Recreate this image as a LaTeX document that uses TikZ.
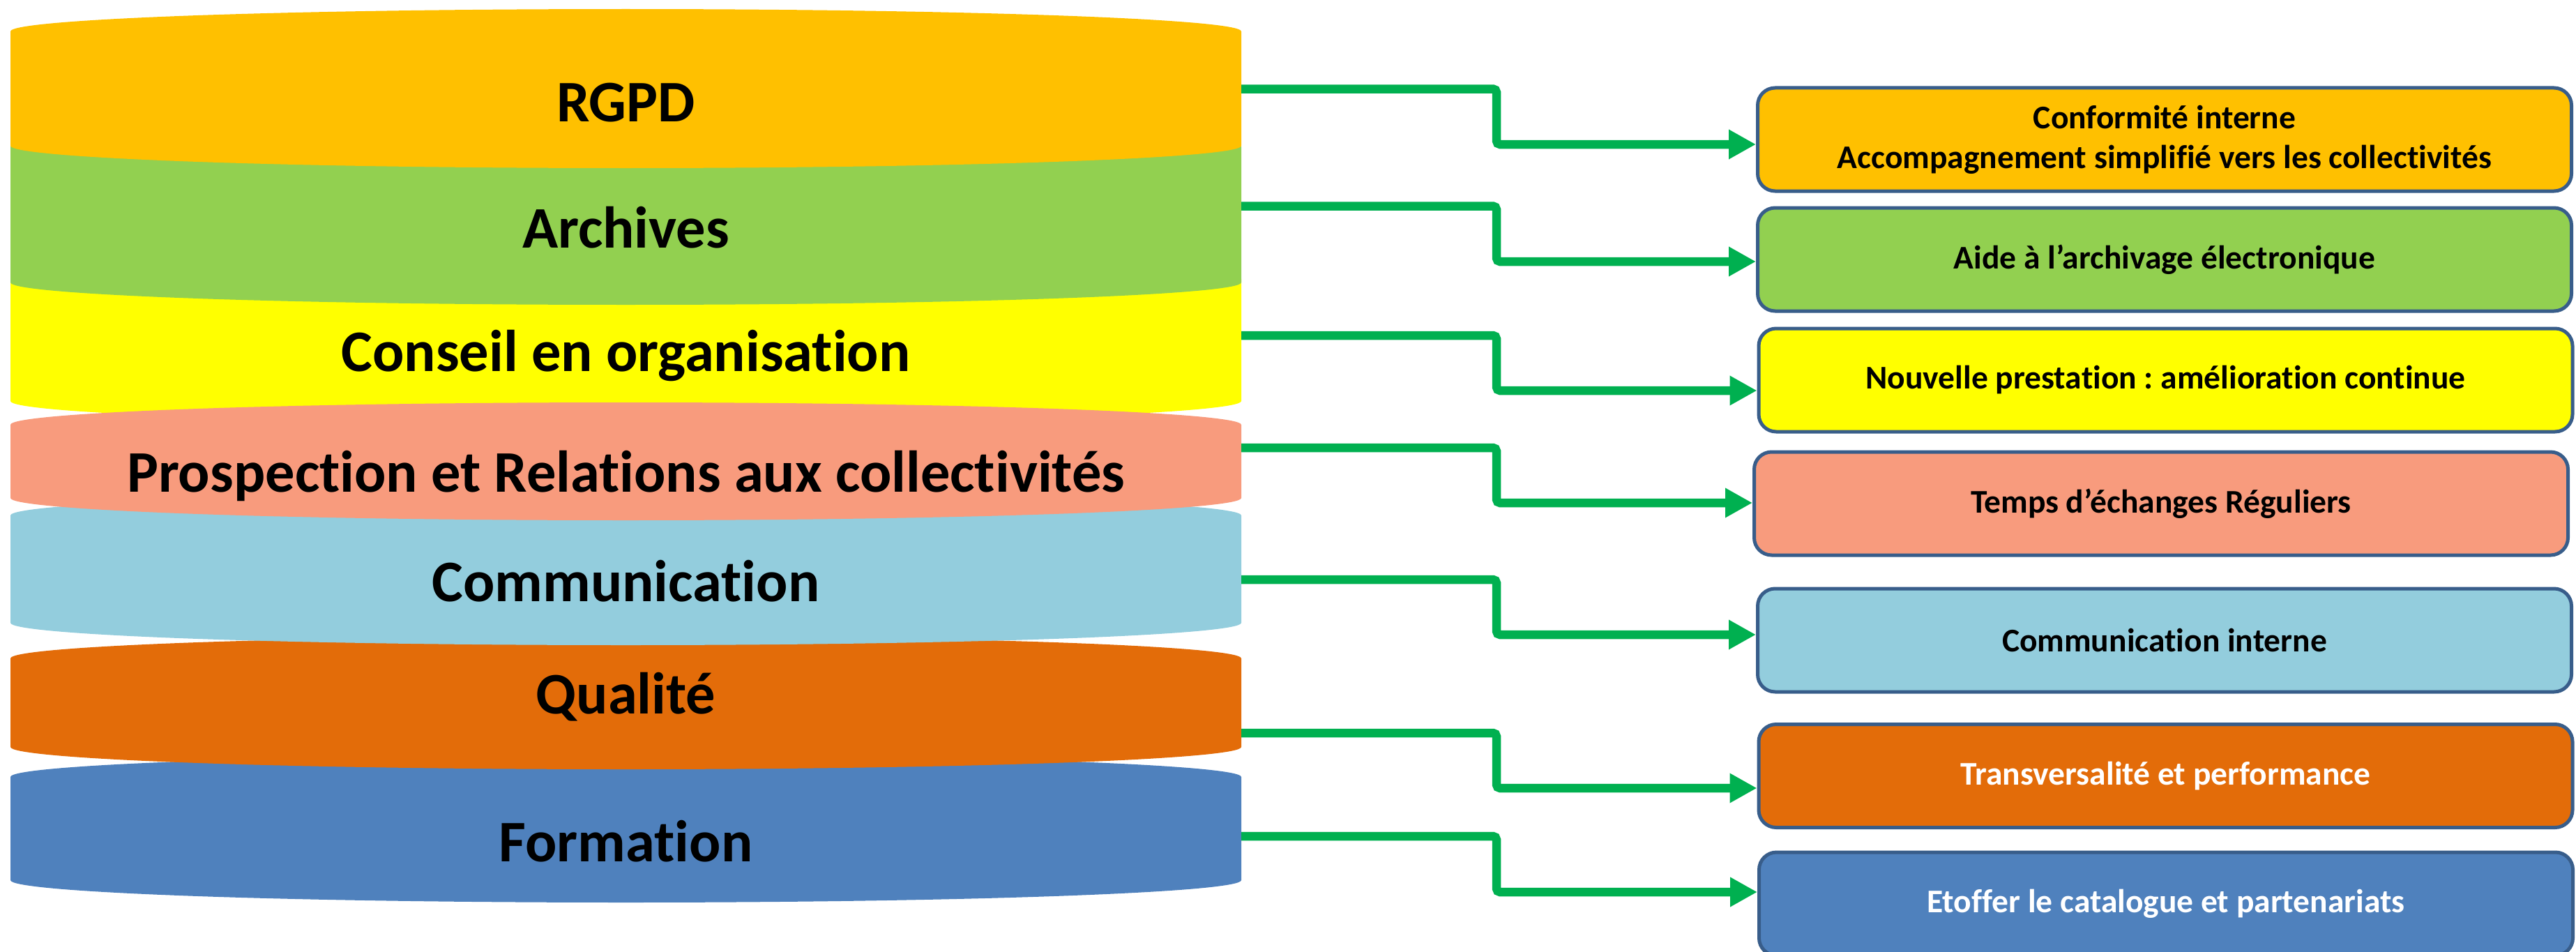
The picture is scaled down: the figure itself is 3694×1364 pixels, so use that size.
\documentclass[tikz,border=0pt]{standalone}
\usepackage{fontspec}
\setmainfont[Ligatures={TeX,NoCommon}]{Carlito}
\frenchspacing
\usetikzlibrary{arrows.meta, positioning}
\usepackage{xcolor}
\definecolor{rgpdorange}{RGB}{255,192,0}
\definecolor{archivegreen}{RGB}{146,208,80}
\definecolor{conseilyellow}{RGB}{255,255,0}
\definecolor{prospectpeach}{RGB}{248,155,125}
\definecolor{comblue}{RGB}{147,205,221}
\definecolor{qualiteorange}{RGB}{227,108,9}
\definecolor{formationblue}{RGB}{79,129,189}
\definecolor{arrowgreen}{RGB}{0,176,80}
\definecolor{boxborder}{RGB}{56,93,138}
\tikzset{cylinderlabel/.style={font=\fontsize{16.9}{20.3}\selectfont\bfseries, anchor=base, inner sep=0pt},
actionbox/.style={rounded corners=5pt, draw=boxborder, line width=1pt, minimum width=233.4pt, minimum height=29.6pt, inner sep=0pt, align=center, font=\fontsize{9.5}{11.4}\selectfont\bfseries}}

\begin{document}
\begin{tikzpicture}[
        x=0.2pt, y=0.2pt,
        flow/.style={draw=arrowgreen, line width=2.5pt, rounded corners=1pt, -{Triangle[length=7.8pt, width=8pt]}}
    ]
        \path[use as bounding box] (0,0) rectangle (3694,1364);
        \clip (0,0) rectangle (3694,1364);
        % Cylinders (lowest first, so the upper ones overlap)
        \foreach \col/\yt/\yb in {
            formationblue/250/102,
            qualiteorange/420/293,
            comblue/625/471,
            conseilyellow/964/789,
            prospectpeach/755/650,
            archivegreen/1154/959,
            rgpdorange/1319/1155} {
            \fill[\col] (15,\yt) arc[start angle=180, end angle=0, x radius=882.5, y radius=32]
                -- (1780,\yb) arc[start angle=0, end angle=-180, x radius=882.5, y radius=32] -- cycle;
        }
        % Cylinder labels
        \node[cylinderlabel] (rgpd) at (897.5,1190) {RGPD};
        \node[cylinderlabel] (archives) at (897.5,1009) {Archives};
        \node[cylinderlabel] (conseil) at (897.5,832) {Conseil en organisation};
        \node[cylinderlabel] (prospection) at (897.5,659) {Prospection et Relations aux collectivités};
        \node[cylinderlabel] (communication) at (897.5,502) {Communication};
        \node[cylinderlabel] (qualite) at (897.5,341) {Qualité};
        \node[cylinderlabel] (formation) at (897.5,129) {Formation};
        % Arrow starts
        \foreach \name/\y in {rgpd/1236.5, archives/1068.5, conseil/883, prospection/722,
            communication/533, qualite/313, formation/165} {
            \coordinate (\name-out) at (1780,\y);
        }
        % Boxes
        \node[actionbox, fill=rgpdorange] (conformite) at (3104,1164) {Conformité interne\\Accompagnement simplifié vers les collectivités};
        \node[actionbox, fill=archivegreen] (aide) at (3104,992) {Aide à l’archivage électronique};
        \node[actionbox, fill=conseilyellow] (nouvelle) at (3105.5,819) {Nouvelle prestation : amélioration continue};
        \node[actionbox, fill=prospectpeach] (temps) at (3099,642) {Temps d’échanges Réguliers};
        \node[actionbox, fill=comblue] (interne) at (3104,446) {Communication interne};
        \node[actionbox, fill=qualiteorange, text=white] (transversalite) at (3105.5,251.5) {Transversalité et performance};
        \node[actionbox, fill=formationblue, text=white] (etoffer) at (3106,68) {Etoffer le catalogue et partenariats};
        % Arrows
        \foreach \from/\to/\dy in {
            rgpd/conformite/-1.4pt,
            archives/aide/-0.6pt,
            conseil/nouvelle/-3pt,
            prospection/temps/0.2pt,
            communication/interne/1.6pt,
            qualite/transversalite/-3.5pt,
            formation/etoffer/3.4pt} {
            \draw[flow] (\from-out) -- ++(366,0) |- ([yshift=\dy]\to.west);
        }
    \end{tikzpicture}
\end{document}
